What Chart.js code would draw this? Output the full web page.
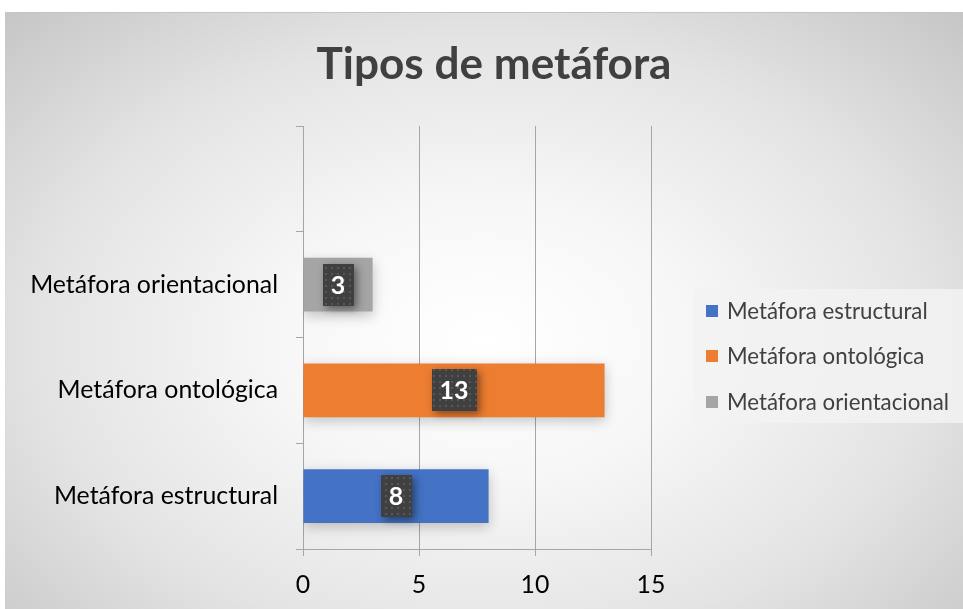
<!DOCTYPE html>
<html>
<head>
<meta charset="utf-8">
<script src="https://cdn.jsdelivr.net/npm/chart.js@4"></script>
<style>
  html, body { margin:0; padding:0; background:#ffffff; width:963px; height:609px; overflow:hidden; }
  #box {
    position:absolute; left:5px; top:12px; width:958px; height:597px;
    border-top:1px solid #c4c4c4; box-sizing:border-box;
    background: radial-gradient(ellipse farthest-corner at 50% 55%, #ffffff 0%, #f7f7f7 30%, #e4e4e4 65%, #c6c6c6 100%);
  }
  canvas { display:block; }
</style>
</head>
<body>
<div id="box"><canvas id="c" width="958" height="596"></canvas></div>
<script>
// ---- data ----
const categories = ['', 'Metáfora orientacional', 'Metáfora ontológica', 'Metáfora estructural'];
const seriesNames = ['Metáfora estructural', 'Metáfora ontológica', 'Metáfora orientacional'];
const seriesValues = [8, 13, 3];
const seriesColors = ['#4472C4', '#ED7D31', '#A5A5A5'];
const xTickValues = [0, 5, 10, 15];
const chartTitle = 'Tipos de metáfora';

// ---- helpers ----
const FAM = 'Lato, "Open Sans", sans-serif';
const mctx = document.createElement('canvas').getContext('2d');
function fitSize(text, weight, target) {
  mctx.font = weight + ' 100px ' + FAM;
  return 100 * target / mctx.measureText(text).width;
}
const titleSize = fitSize(chartTitle, 'bold', 355);
const tickSize = fitSize('Metáfora orientacional', 'normal', 248);
const legendSize = fitSize('Metáfora orientacional', 'normal', 222);

const datasets = seriesNames.map((name, i) => ({
  label: name,
  data: categories.map(c => (c === name ? seriesValues[i] : null)),
  backgroundColor: seriesColors[i],
  borderWidth: 0
}));

// dotted pattern for data label boxes
const pc = document.createElement('canvas');
pc.width = 6; pc.height = 6;
const pctx = pc.getContext('2d');
pctx.fillStyle = '#404040'; pctx.fillRect(0, 0, 6, 6);
pctx.fillStyle = '#575757'; pctx.fillRect(2, 2, 2, 2);

const CHART_LEFT = 298, CHART_RIGHT = 646, CHART_BOTTOM = 536, CHART_TOP = 113;

const decor = {
  id: 'decor',
  beforeDatasetsDraw(chart) {
    const ctx = chart.ctx;
    ctx.save();
    ctx.shadowColor = 'rgba(0,0,0,0.22)';
    ctx.shadowBlur = 12;
    ctx.shadowOffsetX = 0;
    ctx.shadowOffsetY = 4;
  },
  afterDatasetsDraw(chart) {
    const ctx = chart.ctx;
    ctx.restore();
    // data labels
    const pattern = ctx.createPattern(pc, 'repeat');
    chart.data.datasets.forEach((ds, di) => {
      const meta = chart.getDatasetMeta(di);
      meta.data.forEach((el, idx) => {
        const v = ds.data[idx];
        if (v === null || v === undefined) return;
        const cx = (el.x + el.base) / 2;
        const cy = el.y;
        ctx.save();
        ctx.font = 'bold 25px ' + FAM;
        const txt = String(v);
        const tw = ctx.measureText(txt).width;
        const w = tw + 16, h = 42;
        ctx.shadowColor = 'rgba(0,0,0,0.45)';
        ctx.shadowBlur = 8;
        ctx.shadowOffsetX = 3;
        ctx.shadowOffsetY = 3;
        ctx.fillStyle = '#404040';
        ctx.fillRect(Math.round(cx - w / 2), Math.round(cy - h / 2), Math.round(w), h);
        ctx.shadowColor = 'transparent';
        ctx.fillStyle = pattern;
        ctx.fillRect(Math.round(cx - w / 2), Math.round(cy - h / 2), Math.round(w), h);
        ctx.fillStyle = '#ffffff';
        ctx.textAlign = 'center';
        ctx.textBaseline = 'middle';
        ctx.fillText(txt, cx, cy + 1);
        ctx.restore();
      });
    });
  },
  afterDraw(chart) {
    const ctx = chart.ctx;
    ctx.save();
    // title
    ctx.fillStyle = '#404040';
    ctx.font = 'bold ' + titleSize + 'px ' + FAM;
    ctx.textAlign = 'center';
    ctx.textBaseline = 'middle';
    ctx.fillText(chartTitle, 489, 52);
    // legend
    ctx.fillStyle = 'rgba(242,242,242,0.85)';
    ctx.fillRect(688, 276, 270, 134);
    const ys = [298, 343, 389];
    chart.data.datasets.forEach((ds, i) => {
      ctx.fillStyle = ds.backgroundColor;
      ctx.fillRect(701, ys[i] - 6, 12, 12);
      ctx.fillStyle = '#404040';
      ctx.font = legendSize + 'px ' + FAM;
      ctx.textAlign = 'left';
      ctx.textBaseline = 'middle';
      ctx.fillText(ds.label, 722, ys[i] + 1);
    });
    ctx.restore();
  }
};

new Chart(document.getElementById('c'), {
  type: 'bar',
  data: { labels: categories, datasets },
  options: {
    indexAxis: 'y',
    responsive: false,
    animation: false,
    maintainAspectRatio: false,
    layout: { padding: { left: 0, right: 958 - CHART_RIGHT, top: CHART_TOP, bottom: 0 } },
    datasets: { bar: { categoryPercentage: 1, barPercentage: 0.51 } },
    plugins: {
      legend: { display: false },
      tooltip: { enabled: false },
      title: { display: false }
    },
    scales: {
      x: {
        stacked: true,
        min: 0, max: 15,
        afterBuildTicks(scale) { scale.ticks = xTickValues.map(v => ({ value: v })); },
        afterFit(scale) { scale.height = 596 - CHART_BOTTOM; },
        grid: { color: '#a6a6a6', lineWidth: 1, tickLength: 7, drawTicks: true },
        border: { display: true, color: '#a6a6a6', width: 1 },
        ticks: { color: '#000000', font: { family: FAM, size: tickSize }, padding: 14 }
      },
      y: {
        stacked: true,
        afterFit(scale) { scale.width = CHART_LEFT; },
        grid: { drawOnChartArea: false, color: '#a6a6a6', tickLength: 7, offset: true },
        border: { display: true, color: '#a6a6a6', width: 1 },
        ticks: { color: '#000000', font: { family: FAM, size: tickSize }, padding: 18 }
      }
    }
  },
  plugins: [decor]
});
</script>
</body>
</html>
